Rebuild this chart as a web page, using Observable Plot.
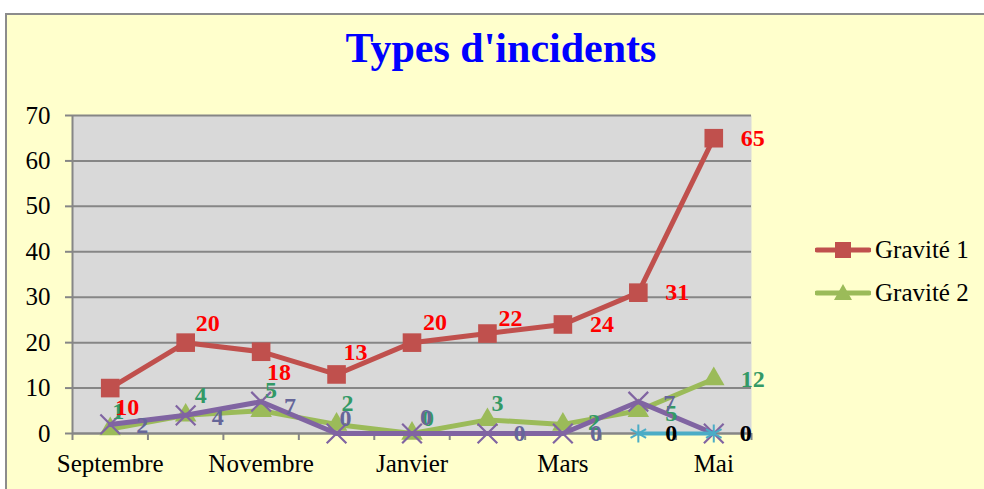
<!DOCTYPE html>
<html>
<head>
<meta charset="utf-8">
<script src="https://cdn.jsdelivr.net/npm/d3@7"></script>
<script src="https://cdn.jsdelivr.net/npm/@observablehq/plot@0.6"></script>
<style>
  html, body { margin: 0; padding: 0; background: #ffffff; width: 984px; height: 489px; overflow: hidden; }
  #frame { position: absolute; left: 5px; top: 13px; width: 1010px; height: 500px; background: #FFFFCC; border: 2px solid #8c8c8c; box-sizing: border-box; }
  #title { position: absolute; left: 0; top: 28px; width: 1002px; text-align: center; font-family: "Liberation Serif", "DejaVu Serif", serif; font-weight: bold; font-size: 42px; line-height: 41px; color: #0000FF; }
  #chart { position: absolute; left: 0; top: 95px; }
  .leg { position: absolute; left: 815px; height: 24px; display: flex; align-items: center; font-family: "Liberation Serif", serif; font-size: 25px; color: #000; }
  .leg svg { margin-right: 4px; }
</style>
</head>
<body>
<div id="frame"></div>
<div id="title">Types d'incidents</div>
<div id="chart"></div>
<div class="leg" style="top:238px"><svg width="56" height="24"><line x1="2" y1="12" x2="54" y2="12" stroke="#C0504D" stroke-width="5" stroke-linecap="round"/><rect x="20" y="4" width="16" height="16" fill="#C0504D"/></svg>Gravité 1</div>
<div class="leg" style="top:281px"><svg width="56" height="24"><line x1="2" y1="12" x2="54" y2="12" stroke="#9BBB59" stroke-width="5" stroke-linecap="round"/><polygon points="28,3 37,19 19,19" fill="#9BBB59"/></svg>Gravité 2</div>
<script>
// ---- data ----
const months = ["Septembre", "Octobre", "Novembre", "Décembre", "Janvier", "Février", "Mars", "Avril", "Mai"];
const gravite1 = [10, 20, 18, 13, 20, 22, 24, 31, 65];
const gravite2 = [1, 4, 5, 2, 0, 3, 2, 5, 12];
const gravite3 = [2, 4, 7, 0, 0, 0, 0, 7, 0];
const gravite4 = [null, null, null, null, null, null, null, 0, 0];
const yTicks = [0, 10, 20, 30, 40, 50, 60, 70];
const shownMonthIdx = [0, 2, 4, 6, 8];

// ---- label nudges (pixels, layout only) ----
const nudge1 = [[17,19],[22,-19],[18,21],[19,-22],[23,-20],[23,-15],[39,0],[39,0],[39,0]];
const nudge2 = [[8,-18],[15,-20],[10,-20],[11,-21],[16,-15],[10,-17],[31,-2],[33,3],[39,0]];
const nudge3 = [[32,1],[32,2],[29,5],[9,-15],[14,-16],[32,0],[33,0],[31,2],[32,0]];
const nudge4 = [[0,0],[0,0],[0,0],[0,0],[0,0],[0,0],[0,0],[33,0],[32,0]];

const toRows = (arr) => arr.map((v, i) => ({i, v})).filter(d => d.v != null);
const s1 = toRows(gravite1), s2 = toRows(gravite2), s3 = toRows(gravite3), s4 = toRows(gravite4);

const labelFont = {fontFamily: "Liberation Serif, serif", fontSize: 24, fontWeight: "bold"};
const labels = (rows, nudge, color) => rows.map(d =>
  Plot.text([d], {x: "i", y: "v", text: r => String(r.v), fill: color, textAnchor: "middle",
    dx: nudge[d.i][0], dy: nudge[d.i][1], ...labelFont}));

const grid = "#868686";
const boundaries = d3.range(-0.5, 9, 1);

const chart = Plot.plot({
  width: 984, height: 394,
  marginLeft: 72, marginRight: 233, marginTop: 20, marginBottom: 56,
  x: {type: "linear", domain: [-0.5, 8.5]},
  y: {domain: [0, 70]},
  style: {fontFamily: "Liberation Serif, serif", fontSize: "25px", background: "transparent", overflow: "visible", color: "#000"},
  marks: [
    Plot.frame({fill: "#D9D9D9", stroke: null}),
    Plot.gridY(yTicks, {stroke: grid, strokeOpacity: 1, strokeWidth: 2}),
    Plot.ruleX([-0.5], {stroke: grid, strokeWidth: 2}),
    Plot.ruleY([0], {stroke: grid, strokeWidth: 2}),
    Plot.axisY({ticks: yTicks, tickSize: 7, tickPadding: 15, stroke: grid, strokeWidth: 2, fill: "#000", label: null, fontSize: 25, fontFamily: "Liberation Serif, serif"}),
    Plot.axisX({ticks: boundaries, tickSize: 7, tickFormat: () => "", stroke: grid, strokeWidth: 2, label: null}),
    Plot.axisX({ticks: shownMonthIdx, tickSize: 0, tickPadding: 21, tickFormat: i => months[i], fill: "#000", label: null, fontSize: 25, fontFamily: "Liberation Serif, serif"}),
    // Gravité 1
    Plot.line(s1, {x: "i", y: "v", stroke: "#C0504D", strokeWidth: 5, strokeLinejoin: "round"}),
    Plot.dot(s1, {x: "i", y: "v", symbol: "square", r: 10.5, fill: "#C0504D", stroke: null}),
    // Gravité 2
    Plot.line(s2, {x: "i", y: "v", stroke: "#9BBB59", strokeWidth: 5, strokeLinejoin: "round"}),
    Plot.dot(s2, {x: "i", y: "v", symbol: "triangle", r: 8, fill: "#9BBB59", stroke: null}),
    // Gravité 3
    Plot.line(s3, {x: "i", y: "v", stroke: "#8064A2", strokeWidth: 5, strokeLinejoin: "round"}),
    Plot.dot(s3, {x: "i", y: "v", symbol: "times", r: 9, stroke: "#8064A2", strokeWidth: 2.2, fill: "none"}),
    // Gravité 4
    Plot.line(s4, {x: "i", y: "v", stroke: "#4BACC6", strokeWidth: 4, strokeLinejoin: "round"}),
    Plot.dot(s4, {x: "i", y: "v", symbol: "asterisk", r: 8.5, stroke: "#4BACC6", strokeWidth: 2, fill: "none"}),
    // labels
    labels(s2, nudge2, "#339966"),
    labels(s3, nudge3, "#666699"),
    labels(s1, nudge1, "#FF0000"),
    labels(s4, nudge4, "#000000")
  ]
});
document.getElementById("chart").appendChild(chart);
</script>
</body>
</html>
